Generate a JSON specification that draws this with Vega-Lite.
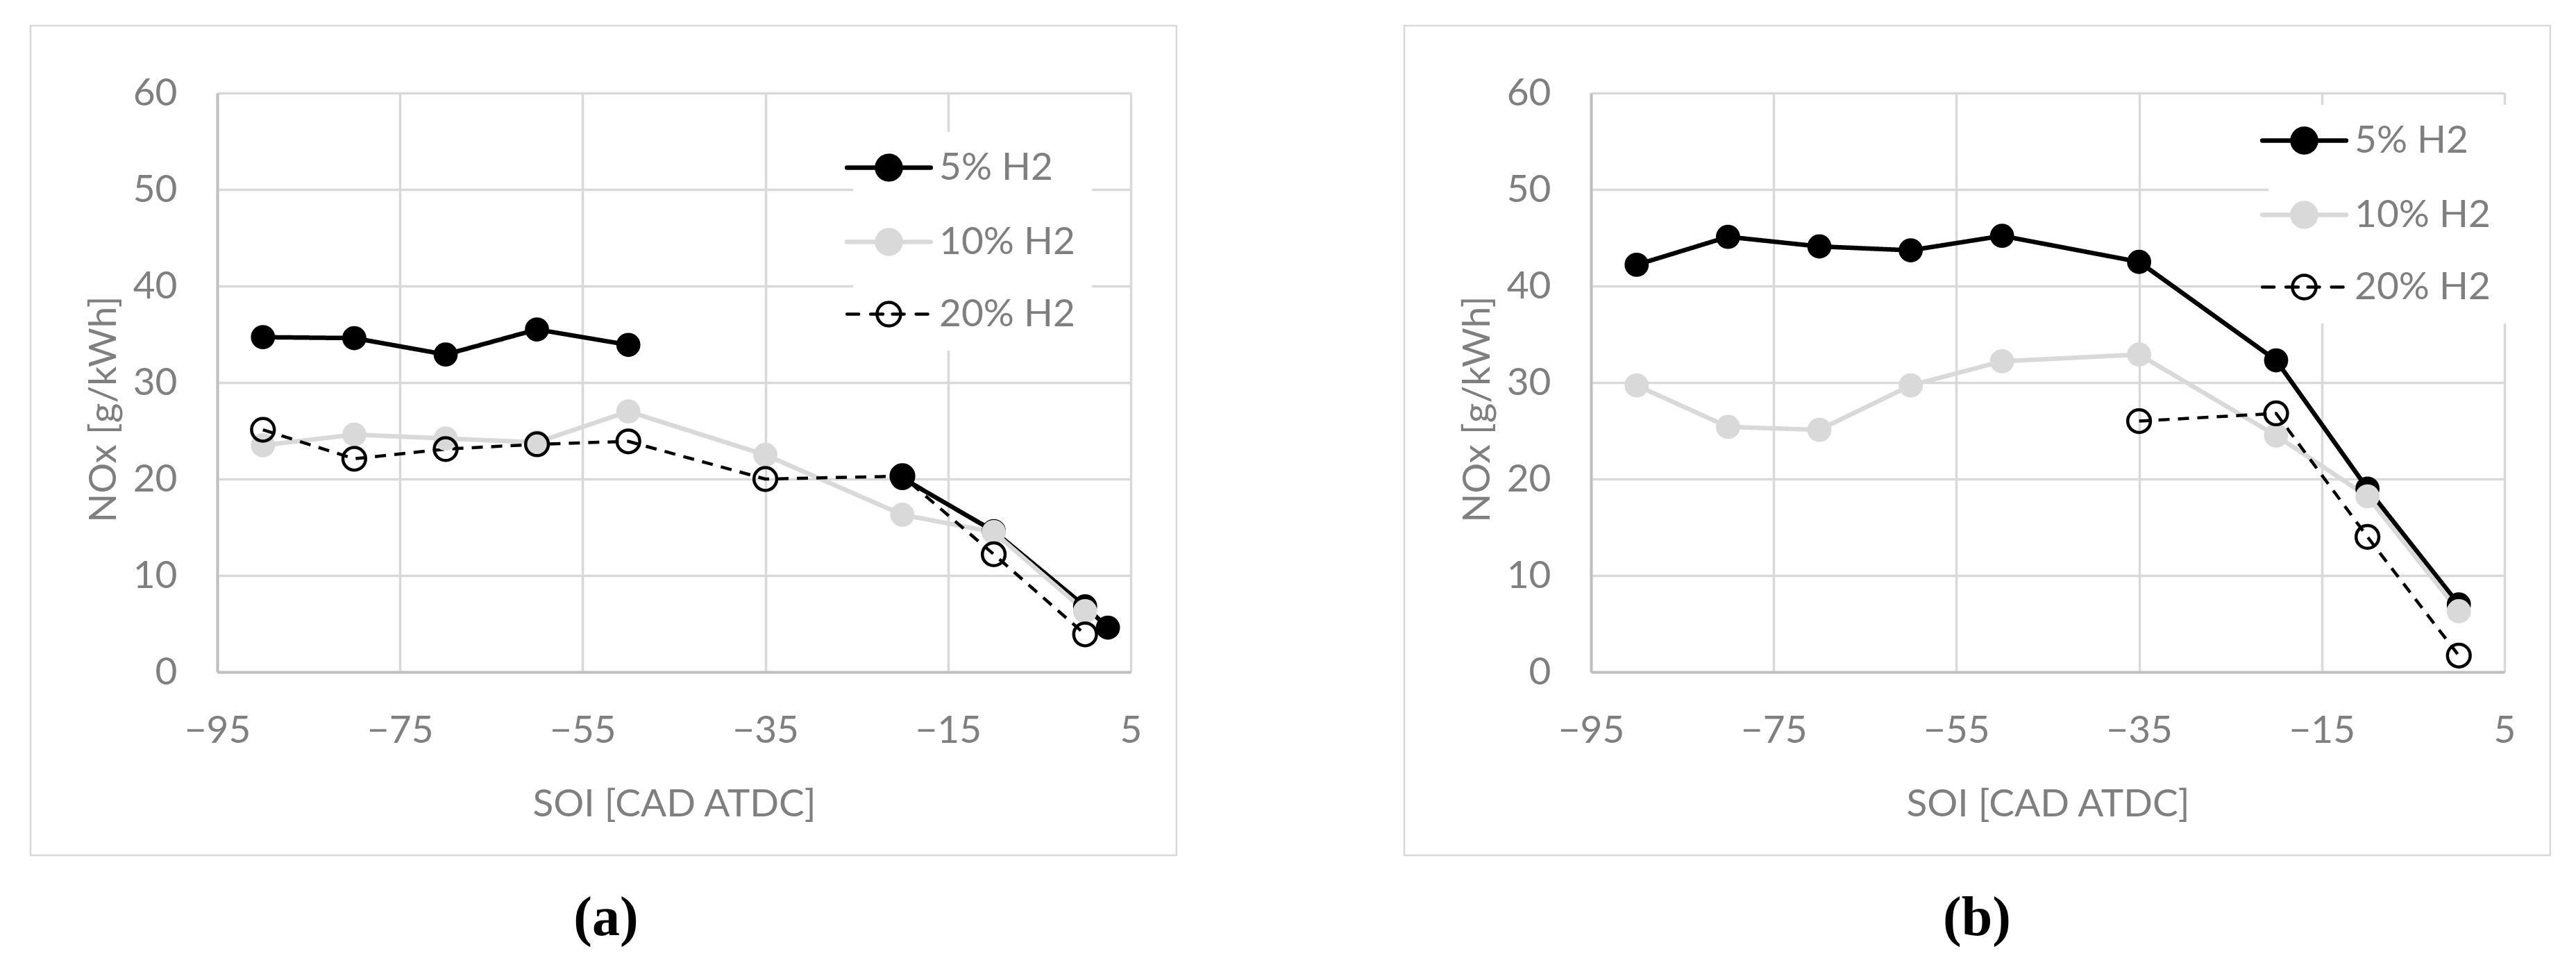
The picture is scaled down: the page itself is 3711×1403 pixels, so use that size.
{
  "$schema": "https://vega.github.io/schema/vega-lite/v6.json",
  "padding": {"left": 42, "top": 35, "right": 5, "bottom": 5},
  "background": "white",
  "datasets": {
    "a": [
      {"series": "5% H2", "seg": 1, "x": -90, "y": 34.7},
      {"series": "5% H2", "seg": 1, "x": -80, "y": 34.6},
      {"series": "5% H2", "seg": 1, "x": -70, "y": 32.9},
      {"series": "5% H2", "seg": 1, "x": -60, "y": 35.5},
      {"series": "5% H2", "seg": 1, "x": -50, "y": 33.9},
      {"series": "5% H2", "seg": 2, "x": -20, "y": 20.1},
      {"series": "5% H2", "seg": 2, "x": -10, "y": 14.6},
      {"series": "5% H2", "seg": 2, "x": 0, "y": 6.8},
      {"series": "5% H2", "seg": 2, "x": 2.5, "y": 4.6},
      {"series": "10% H2", "seg": 1, "x": -90, "y": 23.5},
      {"series": "10% H2", "seg": 1, "x": -80, "y": 24.6},
      {"series": "10% H2", "seg": 1, "x": -70, "y": 24.2},
      {"series": "10% H2", "seg": 1, "x": -60, "y": 23.8},
      {"series": "10% H2", "seg": 1, "x": -50, "y": 27.0},
      {"series": "10% H2", "seg": 1, "x": -35, "y": 22.5},
      {"series": "10% H2", "seg": 1, "x": -20, "y": 16.3},
      {"series": "10% H2", "seg": 1, "x": -10, "y": 14.5},
      {"series": "10% H2", "seg": 1, "x": 0, "y": 6.3},
      {"series": "20% H2", "seg": 1, "x": -90, "y": 25.1},
      {"series": "20% H2", "seg": 1, "x": -80, "y": 22.1},
      {"series": "20% H2", "seg": 1, "x": -70, "y": 23.1},
      {"series": "20% H2", "seg": 1, "x": -60, "y": 23.6},
      {"series": "20% H2", "seg": 1, "x": -50, "y": 23.9},
      {"series": "20% H2", "seg": 1, "x": -35, "y": 20.0},
      {"series": "20% H2", "seg": 1, "x": -20, "y": 20.3},
      {"series": "20% H2", "seg": 1, "x": -10, "y": 12.2},
      {"series": "20% H2", "seg": 1, "x": 0, "y": 3.9}
    ],
    "b": [
      {"series": "5% H2", "seg": 1, "x": -90, "y": 42.2},
      {"series": "5% H2", "seg": 1, "x": -80, "y": 45.1},
      {"series": "5% H2", "seg": 1, "x": -70, "y": 44.1},
      {"series": "5% H2", "seg": 1, "x": -60, "y": 43.7},
      {"series": "5% H2", "seg": 1, "x": -50, "y": 45.2},
      {"series": "5% H2", "seg": 1, "x": -35, "y": 42.5},
      {"series": "5% H2", "seg": 1, "x": -20, "y": 32.3},
      {"series": "5% H2", "seg": 1, "x": -10, "y": 19.0},
      {"series": "5% H2", "seg": 1, "x": 0, "y": 7.0},
      {"series": "10% H2", "seg": 1, "x": -90, "y": 29.7},
      {"series": "10% H2", "seg": 1, "x": -80, "y": 25.4},
      {"series": "10% H2", "seg": 1, "x": -70, "y": 25.1},
      {"series": "10% H2", "seg": 1, "x": -60, "y": 29.7},
      {"series": "10% H2", "seg": 1, "x": -50, "y": 32.2},
      {"series": "10% H2", "seg": 1, "x": -35, "y": 32.9},
      {"series": "10% H2", "seg": 1, "x": -20, "y": 24.5},
      {"series": "10% H2", "seg": 1, "x": -10, "y": 18.2},
      {"series": "10% H2", "seg": 1, "x": 0, "y": 6.3},
      {"series": "20% H2", "seg": 1, "x": -35, "y": 26.0},
      {"series": "20% H2", "seg": 1, "x": -20, "y": 26.8},
      {"series": "20% H2", "seg": 1, "x": -10, "y": 14.0},
      {"series": "20% H2", "seg": 1, "x": 0, "y": 1.7}
    ]
  },
  "hconcat": [
    {
      "width": 1316,
      "height": 834,
      "data": {"name": "a"},
      "title": {"text": "(a)", "orient": "bottom", "anchor": "middle", "frame": "group", "offset": 51, "dx": -98, "font": "Liberation Serif", "fontSize": 80, "fontWeight": "bold", "color": "#000000"},
      "layer": [
        {
          "mark": {"type": "line", "strokeJoin": "round", "strokeCap": "butt"},
          "encoding": {
            "x": {"field": "x", "type": "quantitative", "scale": {"domain": [-95, 5], "nice": false, "zero": false},
                  "axis": {"values": [-95, -75, -55, -35, -15, 5], "grid": true, "title": "SOI [CAD ATDC]", "labelPadding": 58, "titlePadding": 52}},
            "y": {"field": "y", "type": "quantitative", "scale": {"domain": [0, 60], "nice": false},
                  "axis": {"values": [0, 10, 20, 30, 40, 50, 60], "grid": true, "title": "NOx [g/kWh]", "labelPadding": 58, "titlePadding": 13, "titleY": 455}},
            "stroke": {"field": "series", "type": "nominal",
                       "scale": {"domain": ["5% H2", "10% H2", "20% H2"], "range": ["#000000", "#d9d9d9", "#000000"]},
                       "legend": {"orient": "none", "legendX": 916, "legendY": 56, "title": null, "fillColor": "white",
                                  "padding": 24, "labelFont": "Lato", "labelFontSize": 55, "labelColor": "#7f7f7f", "labelLimit": 0,
                                  "labelOffset": 45, "rowPadding": 46, "symbolSize": 1156, "symbolType": "circle",
                                  "encode": {"symbols": {"update": {
                                    "shape": {"signal": "datum.value === '20% H2' ? 'M-3.55,0H-2.55M-1.55,0H-0.5M0.3,0H1.3M2.3,0H3.3M1,0A1,1 0 1,1 -1,0A1,1 0 1,1 1,0Z' : 'M-3.55,0H3.55M1,0A1,1 0 1,1 -1,0A1,1 0 1,1 1,0Z'"},
                                    "fill": {"signal": "datum.value === '5% H2' ? '#000000' : datum.value === '10% H2' ? '#d9d9d9' : 'transparent'"},
                                    "stroke": {"signal": "datum.value === '10% H2' ? '#d9d9d9' : '#000000'"},
                                    "strokeWidth": {"signal": "datum.value === '20% H2' ? 4.5 : 6.5"},
                                    "strokeCap": {"value": "round"},
                                    "size": {"value": 1156},
                                    "opacity": {"value": 1}
                                  }}}}},
            "detail": {"field": "seg", "type": "nominal"},
            "strokeWidth": {"condition": {"test": "datum.series === '20% H2'", "value": 4.5}, "value": 6.5},
            "strokeDash": {"condition": {"test": "datum.series === '20% H2'", "value": [16, 12]}, "value": [1, 0]}
          }
        },
        {
          "mark": {"type": "circle", "size": 1075, "opacity": 1},
          "encoding": {
            "x": {"field": "x", "type": "quantitative"},
            "y": {"field": "y", "type": "quantitative"},
            "stroke": {"field": "series", "type": "nominal"},
            "fill": {"condition": [{"test": "datum.series === '20% H2'", "value": "transparent"}, {"test": "datum.series === '10% H2'", "value": "#d9d9d9"}], "value": "#000000"},
            "strokeWidth": {"condition": {"test": "datum.series === '20% H2'", "value": 4.5}, "value": 2}
          }
        },
        {
          "data": {"values": [{}]},
          "mark": {"type": "rect", "fill": "transparent", "stroke": "#d9d9d9", "strokeWidth": 2.5},
          "encoding": {
            "x": {"datum": -115.44, "type": "quantitative"},
            "x2": {"datum": 10.0},
            "y": {"datum": 66.98, "type": "quantitative"},
            "y2": {"datum": -18.99}
          }
        }
      ]
    },
    {
      "width": 1316,
      "height": 834,
      "data": {"name": "b"},
      "title": {"text": "(b)", "orient": "bottom", "anchor": "middle", "frame": "group", "offset": 51, "dx": -102, "font": "Liberation Serif", "fontSize": 80, "fontWeight": "bold", "color": "#000000"},
      "layer": [
        {
          "mark": {"type": "line", "strokeJoin": "round", "strokeCap": "butt"},
          "encoding": {
            "x": {"field": "x", "type": "quantitative", "scale": {"domain": [-95, 5], "nice": false, "zero": false},
                  "axis": {"values": [-95, -75, -55, -35, -15, 5], "grid": true, "title": "SOI [CAD ATDC]", "labelPadding": 58, "titlePadding": 52}},
            "y": {"field": "y", "type": "quantitative", "scale": {"domain": [0, 60], "nice": false},
                  "axis": {"values": [0, 10, 20, 30, 40, 50, 60], "grid": true, "title": "NOx [g/kWh]", "labelPadding": 58, "titlePadding": 13, "titleY": 455}},
            "stroke": {"field": "series", "type": "nominal",
                       "scale": {"domain": ["5% H2", "10% H2", "20% H2"], "range": ["#000000", "#d9d9d9", "#000000"]},
                       "legend": {"orient": "none", "legendX": 976, "legendY": 17, "title": null, "fillColor": "white",
                                  "padding": 24, "labelFont": "Lato", "labelFontSize": 55, "labelColor": "#7f7f7f", "labelLimit": 0,
                                  "labelOffset": 45, "rowPadding": 46, "symbolSize": 1156, "symbolType": "circle",
                                  "encode": {"symbols": {"update": {
                                    "shape": {"signal": "datum.value === '20% H2' ? 'M-3.55,0H-2.55M-1.55,0H-0.5M0.3,0H1.3M2.3,0H3.3M1,0A1,1 0 1,1 -1,0A1,1 0 1,1 1,0Z' : 'M-3.55,0H3.55M1,0A1,1 0 1,1 -1,0A1,1 0 1,1 1,0Z'"},
                                    "fill": {"signal": "datum.value === '5% H2' ? '#000000' : datum.value === '10% H2' ? '#d9d9d9' : 'transparent'"},
                                    "stroke": {"signal": "datum.value === '10% H2' ? '#d9d9d9' : '#000000'"},
                                    "strokeWidth": {"signal": "datum.value === '20% H2' ? 4.5 : 6.5"},
                                    "strokeCap": {"value": "round"},
                                    "size": {"value": 1156},
                                    "opacity": {"value": 1}
                                  }}}}},
            "detail": {"field": "seg", "type": "nominal"},
            "strokeWidth": {"condition": {"test": "datum.series === '20% H2'", "value": 4.5}, "value": 6.5},
            "strokeDash": {"condition": {"test": "datum.series === '20% H2'", "value": [16, 12]}, "value": [1, 0]}
          }
        },
        {
          "mark": {"type": "circle", "size": 1075, "opacity": 1},
          "encoding": {
            "x": {"field": "x", "type": "quantitative"},
            "y": {"field": "y", "type": "quantitative"},
            "stroke": {"field": "series", "type": "nominal"},
            "fill": {"condition": [{"test": "datum.series === '20% H2'", "value": "transparent"}, {"test": "datum.series === '10% H2'", "value": "#d9d9d9"}], "value": "#000000"},
            "strokeWidth": {"condition": {"test": "datum.series === '20% H2'", "value": 4.5}, "value": 2}
          }
        },
        {
          "data": {"values": [{}]},
          "mark": {"type": "rect", "fill": "transparent", "stroke": "#d9d9d9", "strokeWidth": 2.5},
          "encoding": {
            "x": {"datum": -115.44, "type": "quantitative"},
            "x2": {"datum": 10.0},
            "y": {"datum": 66.98, "type": "quantitative"},
            "y2": {"datum": -18.99}
          }
        }
      ]
    }
  ],
  "spacing": 324,
  "resolve": {"scale": {"stroke": "independent"}, "legend": {"stroke": "independent"}},
  "config": {
    "font": "Lato",
    "view": {"stroke": null},
    "axis": {
      "labelFont": "Lato", "labelFontSize": 55, "labelColor": "#7f7f7f",
      "titleFont": "Lato", "titleFontSize": 55, "titleColor": "#7f7f7f", "titleFontWeight": "normal",
      "grid": true, "gridColor": "#d9d9d9", "gridWidth": 3.5, "ticks": false, "tickSize": 0,
      "domainColor": "#bfbfbf", "domainWidth": 4, "labelFlush": false, "labelOverlap": false
    }
  }
}
